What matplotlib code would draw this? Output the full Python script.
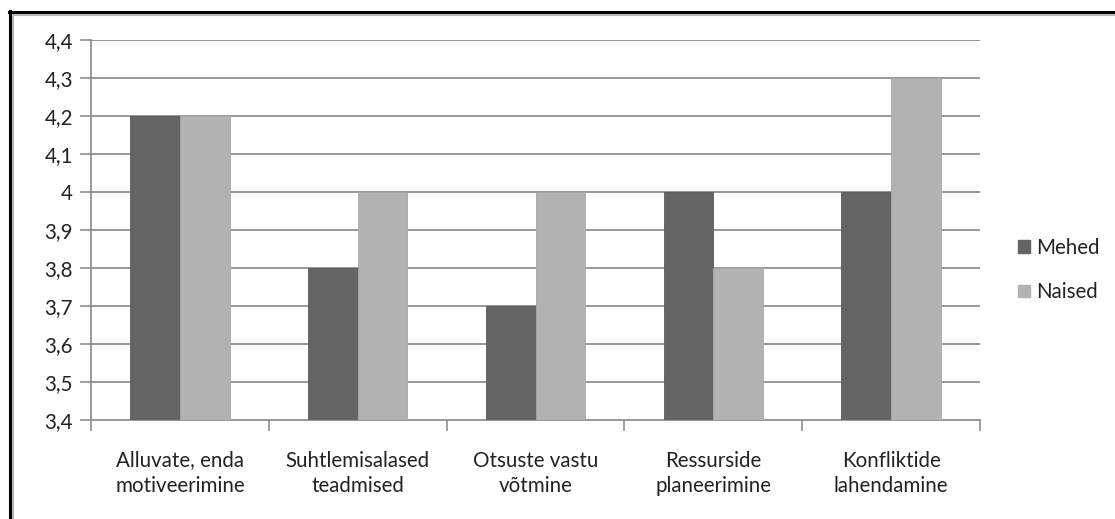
import matplotlib
matplotlib.use("Agg")
import matplotlib.pyplot as plt
import numpy as np
from matplotlib.lines import Line2D
from matplotlib.patches import Patch

plt.rcParams['font.family'] = ['Lato', 'DejaVu Sans']

categories = ["Alluvate, enda\nmotiveerimine", "Suhtlemisalased\nteadmised",
              "Otsuste vastu\nvõtmine", "Ressurside\nplaneerimine",
              "Konfliktide\nlahendamine"]
mehed = [4.2, 3.8, 3.7, 4.0, 4.0]
naised = [4.2, 4.0, 4.0, 3.8, 4.3]
series_names = ["Mehed", "Naised"]
y_ticks = [3.4, 3.5, 3.6, 3.7, 3.8, 3.9, 4.0, 4.1, 4.2, 4.3, 4.4]
y_tick_labels = ["3,4", "3,5", "3,6", "3,7", "3,8", "3,9", "4", "4,1", "4,2", "4,3", "4,4"]

c_men = "#646464"
c_women = "#b2b2b2"
grid_c = "#8f8f8f"
txt_c = "#222222"
fs = 14.8

W, H = 1115, 519
fig = plt.figure(figsize=(W / 100, H / 100), dpi=100)
ax = fig.add_axes([91 / W, 1 - 420 / H, (980 - 91) / W, (420 - 40) / H])

x = np.arange(len(categories))
bw = 0.28
base = y_ticks[0]
ax.bar(x - bw / 2, np.array(mehed) - base, bw, bottom=base, color=c_men,
       edgecolor="#5a5a5a", linewidth=0.6, zorder=3)
ax.bar(x + bw / 2, np.array(naised) - base, bw, bottom=base, color=c_women,
       edgecolor="#a8a8a8", linewidth=0.6, zorder=3)

ax.set_xlim(-0.5, len(categories) - 0.5)
ax.set_ylim(y_ticks[0], y_ticks[-1])
ax.set_yticks(y_ticks)
ax.set_yticklabels(y_tick_labels, fontsize=fs, color=txt_c)
for yv in y_ticks[1:]:
    ax.axhline(yv, color=grid_c, linewidth=1.3, zorder=1)

ax.set_xticks(x)
ax.set_xticklabels(categories, fontsize=fs, color=txt_c, linespacing=1.36)
ax.set_xticks(np.arange(len(categories) + 1) - 0.5, minor=True)
ax.tick_params(axis="x", which="major", length=0, pad=22)
ax.tick_params(axis="x", which="minor", length=8, width=1.2, color=grid_c)
ax.tick_params(axis="y", length=8, width=1.2, color=grid_c, pad=5)

for side in ["top", "right"]:
    ax.spines[side].set_visible(False)
for side in ["left", "bottom"]:
    ax.spines[side].set_color(grid_c)
    ax.spines[side].set_linewidth(1.3)

handles = [Patch(facecolor=c_men, edgecolor=c_men),
           Patch(facecolor=c_women, edgecolor=c_women)]
fig.legend(handles, series_names, loc="center left",
           bbox_to_anchor=(1018 / W, 1 - 270 / H), frameon=False,
           fontsize=fs, handlelength=0.58, handleheight=0.58,
           handletextpad=0.3, labelspacing=1.2, labelcolor=txt_c,
           borderpad=0, borderaxespad=0)

# double frame along the top and left edges
fig.add_artist(Line2D([10 / W, 10 / W], [0, 1 - 11 / H], color="black",
                      linewidth=2.2, transform=fig.transFigure))
fig.add_artist(Line2D([13 / W, 13 / W], [0, 1 - 14 / H], color="#b5b5b5",
                      linewidth=1.5, transform=fig.transFigure))
fig.add_artist(Line2D([9 / W, 1], [1 - 12 / H, 1 - 12 / H], color="black",
                      linewidth=2.2, transform=fig.transFigure))
fig.add_artist(Line2D([13 / W, 1], [1 - 14.5 / H, 1 - 14.5 / H], color="#b5b5b5",
                      linewidth=1.5, transform=fig.transFigure))

fig.savefig("out.png", dpi=100)
